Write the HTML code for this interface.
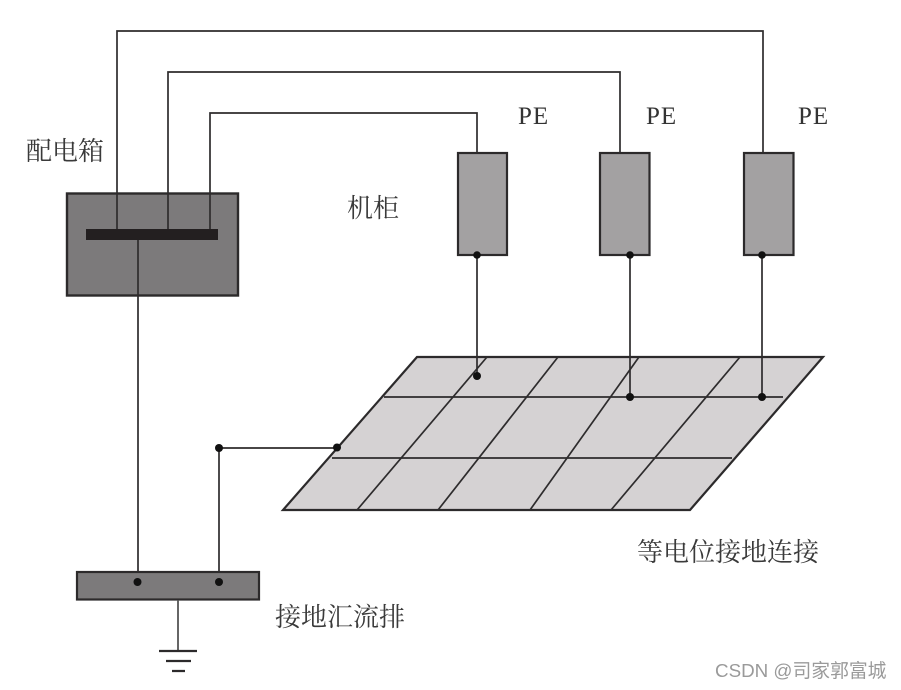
<!DOCTYPE html>
<html><head><meta charset="utf-8"><style>
html,body{margin:0;padding:0;background:#fff}
svg{display:block}
.c{font-family:"Liberation Serif","Noto Serif CJK SC",serif;font-size:26px;fill:#3a3a3a}
.p{font-family:"Liberation Serif",serif;font-size:25px;letter-spacing:1px;fill:#333}
.w{font-family:"Liberation Sans","Noto Sans CJK SC",sans-serif;font-size:18.8px;fill:#9a9a9a}
</style></head><body>
<svg width="901" height="690" viewBox="0 0 901 690" xmlns="http://www.w3.org/2000/svg">
<rect width="901" height="690" fill="#fff"/>
<g style="filter:blur(0.35px)">
<!-- plate -->
<polygon points="417,357 823,357 690,510 283,510" fill="#d5d2d3" stroke="#2c2a2b" stroke-width="2.2"/>
<g stroke="#2e2c2d" stroke-width="1.7" fill="none">
<path d="M384,397H783M332,458H732"/>
<path d="M487,357L357,510M558,357L438,510M639,357L530,510M740,357L611,510"/>
</g>
<!-- distribution box -->
<rect x="67" y="193.500" width="171" height="102" fill="#7c7a7b" stroke="#2c2a2b" stroke-width="2.400"/>
<!-- cabinets -->
<g fill="#a3a1a2" stroke="#2c2a2b" stroke-width="2.200">
<rect x="458" y="153" width="49" height="102"/>
<rect x="600" y="153" width="49.500" height="102"/>
<rect x="744" y="153" width="49.500" height="102"/>
</g>
<!-- wires -->
<g stroke="#2e2c2d" stroke-width="1.700" fill="none">
<path d="M117,229V31H763V153"/>
<path d="M168,229V72H620V153"/>
<path d="M210,229V113H477V153"/>
<path d="M477,255V376M630,255V397M762,255V397"/>
<path d="M138,240V581M219,581V448H337"/>
</g>
<rect x="86" y="229" width="132" height="11" fill="#231f20"/>
<!-- ground bus -->
<rect x="77" y="572" width="182" height="27.500" fill="#7c7a7b" stroke="#2c2a2b" stroke-width="2.200"/>
<path d="M178,600V651" stroke="#555" stroke-width="1.800" fill="none"/>
<g stroke="#2c2a2b" stroke-width="2.200"><path d="M159,651H197M166,661H191M172,671H185"/></g>
<!-- dots -->
<g fill="#111">
<circle cx="477" cy="255" r="3.800"/><circle cx="630" cy="255" r="3.800"/><circle cx="762" cy="255" r="3.800"/>
<circle cx="477" cy="376" r="4"/><circle cx="630" cy="397" r="4"/><circle cx="762" cy="397" r="4"/>
<circle cx="337" cy="447.500" r="4"/><circle cx="219" cy="448" r="4"/>
<circle cx="137.500" cy="582" r="4"/><circle cx="219" cy="582" r="4"/>
</g>
</g>
<!-- labels -->
<text class="c" x="26" y="160">配电箱</text>
<text class="c" x="347" y="217">机柜</text>
<text class="p" x="518" y="124">PE</text>
<text class="p" x="646" y="124">PE</text>
<text class="p" x="798" y="124">PE</text>
<text class="c" x="637" y="561">等电位接地连接</text>
<text class="c" x="275" y="626">接地汇流排</text>
<text class="w" x="715" y="677">CSDN @司家郭富城</text>
</svg>
</body></html>
